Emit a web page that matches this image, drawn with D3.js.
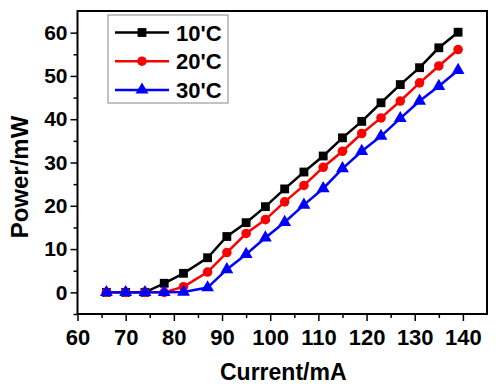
<!DOCTYPE html>
<html>
<head>
<meta charset="utf-8">
<script src="https://cdn.jsdelivr.net/npm/d3@7"></script>
<style>
  body { margin: 0; background: #fff; }
  text { font-family: "Liberation Sans", Arial, sans-serif; font-weight: bold; }
</style>
</head>
<body>
<svg id="chart" width="500" height="386"></svg>
<script>
const current = [66, 70, 74, 78, 82, 87, 91, 95, 99, 103, 107, 111, 115, 119, 123, 127, 131, 135, 139];
const p10 = [0, 0, 0, 2.1, 4.4, 8.0, 12.9, 16.1, 19.8, 23.9, 27.8, 31.5, 35.7, 39.5, 43.8, 48.0, 51.9, 56.5, 60.1];
const p20 = [0, 0, 0, 0, 1.3, 4.7, 9.2, 13.6, 16.8, 20.9, 24.7, 28.9, 32.6, 36.7, 40.3, 44.2, 48.4, 52.3, 56.1];
const p30 = [0, 0, 0, 0, 0.1, 1.1, 5.3, 8.8, 12.6, 16.2, 20.2, 24.0, 28.6, 32.6, 36.1, 40.2, 44.2, 47.6, 51.3];
const seriesNames = ["10'C", "20'C", "30'C"];
const xTicks = [60, 70, 80, 90, 100, 110, 120, 130, 140];
const yTicks = [0, 10, 20, 30, 40, 50, 60];

const series = [
  { name: seriesNames[0], values: p10, color: "#000000", shape: d3.symbolSquare, size: 78 },
  { name: seriesNames[1], values: p20, color: "#ff0000", shape: d3.symbolCircle, size: 72 },
  { name: seriesNames[2], values: p30, color: "#0000ff", shape: d3.symbolTriangle, size: 72 }
];

const svg = d3.select("#chart");
const plotL = 77.5, plotR = 487, plotT = 11, plotB = 314;

const x = d3.scaleLinear().domain([60, 145]).range([plotL, plotR]);
const y = d3.scaleLinear().domain([-5, 65]).range([plotB, plotT]);

// minor ticks
const xMinor = d3.range(65, 145, 10);
const yMinor = d3.range(-5, 65, 10);

svg.append("g")
  .attr("transform", `translate(0,${plotB})`)
  .call(d3.axisBottom(x).tickValues(xMinor).tickSize(4).tickFormat(""))
  .call(g => g.select(".domain").remove())
  .selectAll("line").attr("stroke-width", 1.5);

svg.append("g")
  .attr("transform", `translate(${plotL},0)`)
  .call(d3.axisLeft(y).tickValues(yMinor).tickSize(4).tickFormat(""))
  .call(g => g.select(".domain").remove())
  .selectAll("line").attr("stroke-width", 1.5);

const xAxis = svg.append("g")
  .attr("transform", `translate(0,${plotB})`)
  .call(d3.axisBottom(x).tickValues(xTicks).tickSize(7).tickPadding(8).tickFormat(d3.format("d")));
xAxis.select(".domain").remove();
xAxis.selectAll("line").attr("stroke-width", 1.5);
xAxis.selectAll("text").attr("font-size", 22).attr("fill", "#000")
  .style("font-family", "'Liberation Sans', Arial, sans-serif").style("font-weight", "bold");

const yAxis = svg.append("g")
  .attr("transform", `translate(${plotL},0)`)
  .call(d3.axisLeft(y).tickValues(yTicks).tickSize(7).tickPadding(3).tickFormat(d3.format("d")));
yAxis.select(".domain").remove();
yAxis.selectAll("line").attr("stroke-width", 1.5);
yAxis.selectAll("text").attr("font-size", 21).attr("fill", "#000")
  .style("font-family", "'Liberation Sans', Arial, sans-serif").style("font-weight", "bold");

// frame
svg.append("rect")
  .attr("x", plotL).attr("y", plotT)
  .attr("width", plotR - plotL).attr("height", plotB - plotT)
  .attr("fill", "none").attr("stroke", "#000").attr("stroke-width", 2);

const line = d3.line().x((d, i) => x(current[i])).y(d => y(d));

series.forEach(s => {
  svg.append("path")
    .datum(s.values)
    .attr("d", line)
    .attr("fill", "none")
    .attr("stroke", s.color)
    .attr("stroke-width", 2.5);
  svg.append("g").selectAll("path")
    .data(s.values)
    .join("path")
    .attr("transform", (d, i) => `translate(${x(current[i])},${y(d)})`)
    .attr("d", d3.symbol().type(s.shape).size(s.size))
    .attr("fill", s.color);
});

// legend
const legend = svg.append("g");
legend.append("rect")
  .attr("x", 108).attr("y", 15).attr("width", 120).attr("height", 88)
  .attr("fill", "#fff").attr("stroke", "#888").attr("stroke-width", 1);
series.forEach((s, i) => {
  const ly = 32.5 + i * 28.7;
  legend.append("line")
    .attr("x1", 115).attr("x2", 169).attr("y1", ly).attr("y2", ly)
    .attr("stroke", s.color).attr("stroke-width", 2.5);
  legend.append("path")
    .attr("transform", `translate(142,${ly})`)
    .attr("d", d3.symbol().type(s.shape).size(s.size))
    .attr("fill", s.color);
  legend.append("text")
    .attr("x", 176).attr("y", ly + 8)
    .attr("font-size", 22)
    .text(s.name);
});

// axis titles
svg.append("text")
  .attr("x", (plotL + plotR) / 2 + 1).attr("y", 380)
  .attr("text-anchor", "middle")
  .attr("font-size", 23)
  .text("Current/mA");

svg.append("text")
  .attr("transform", "translate(28,177) rotate(-90)")
  .attr("text-anchor", "middle")
  .attr("font-size", 24)
  .text("Power/mW");
</script>
</body>
</html>
